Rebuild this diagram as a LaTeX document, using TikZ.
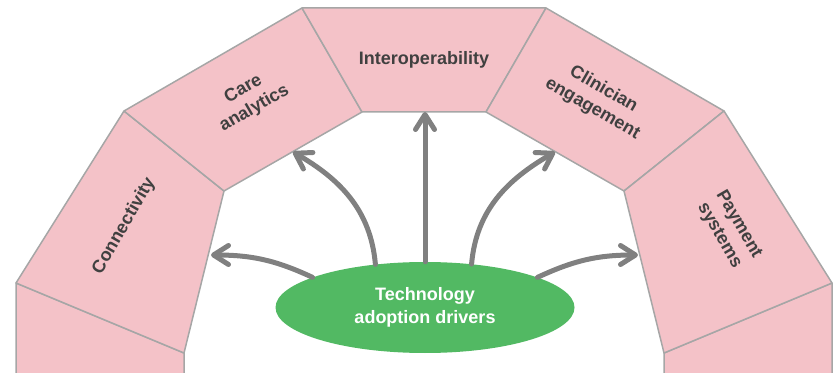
\documentclass[tikz,border=0pt]{standalone}
\usepackage{fontspec}
\setmainfont{Liberation Sans}
\usetikzlibrary{arrows.meta,shapes.geometric}

\definecolor{segpink}{HTML}{F4C2C8}
\definecolor{seggray}{HTML}{A6A6A6}
\definecolor{labelgray}{HTML}{404040}
\definecolor{arrowgray}{HTML}{808080}
\definecolor{drvgreen}{HTML}{52B963}

\begin{document}
\begin{tikzpicture}[x=1pt,y=1pt]
    \tikzstyle{seg}=[fill=segpink,draw=seggray,line width=1.5pt,line join=round];
    \tikzstyle{lbl}=[text=labelgray,font=\fontsize{18}{22}\selectfont\bfseries,align=center];
    \tikzstyle{drive}=[draw=arrowgray,line width=5pt,line cap=round,
      -{Straight Barb[length=15pt,width=19pt,line cap=round,line join=round]}];
    \useasboundingbox (0,0) rectangle (837,372);

    % outer and inner corners of the arch
    \coordinate (lo1) at (16,89); \coordinate (lo2) at (124,261);
    \coordinate (lo3) at (302,364); \coordinate (li1) at (184,19);
    \coordinate (li2) at (224,181); \coordinate (li3) at (362,260);
    \coordinate (ro1) at (832,89); \coordinate (ro2) at (724,261);
    \coordinate (ro3) at (546,364); \coordinate (ri1) at (664,19);
    \coordinate (ri2) at (624,181); \coordinate (ri3) at (486,260);

    \begin{scope}
      \clip (0,0) rectangle (837,372);
      \draw[seg] (lo1) -- (li1) -- (184,-5) -- (16,-5) -- cycle;
      \draw[seg] (ro1) -- (ri1) -- (664,-5) -- (832,-5) -- cycle;
    \end{scope}
    \draw[seg] (lo1) -- (lo2) -- (li2) -- (li1) -- cycle;
    \draw[seg] (lo2) -- (lo3) -- (li3) -- (li2) -- cycle;
    \draw[seg] (lo3) -- (ro3) -- (ri3) -- (li3) -- cycle;
    \draw[seg] (ro3) -- (ro2) -- (ri2) -- (ri3) -- cycle;
    \draw[seg] (ro2) -- (ro1) -- (ri1) -- (ri2) -- cycle;

    \node (conn) [lbl,rotate=60] at (124,146) {Connectivity};
    \node (care) [lbl,rotate=30] at (249,273) {Care\\analytics};
    \node (inter) [lbl] at (424,312) {Interoperability};
    \node (clin) [lbl,rotate=-30] at (598,273) {Clinician\\engagement};
    \node (pay) [lbl,rotate=-60] at (729,142) {Payment\\systems};

    \node (drv) [ellipse,fill=drvgreen,text=white,minimum width=299pt,
      minimum height=91pt,inner sep=0pt,align=center,
      font=\fontsize{18}{23}\selectfont\bfseries] at (425,64.5)
      {Technology\\adoption drivers};

    % arrow ends on the inner rim
    \coordinate (t1) at (211,117); \coordinate (t2) at (293,220);
    \coordinate (t4) at (555,220); \coordinate (t5) at (638,117);
    \coordinate (t3) at (drv.north |- li3);

    \path (drv.165) edge [drive,out=155,in=0] (t1)
    (drv.139) edge [drive,out=95,in=-30] (t2)
    (drv.north) edge [drive] (t3)
    (drv.43) edge [drive,out=85,in=210] (t4)
    (drv.15) edge [drive,out=25,in=180] (t5);
\end{tikzpicture}
\end{document}
